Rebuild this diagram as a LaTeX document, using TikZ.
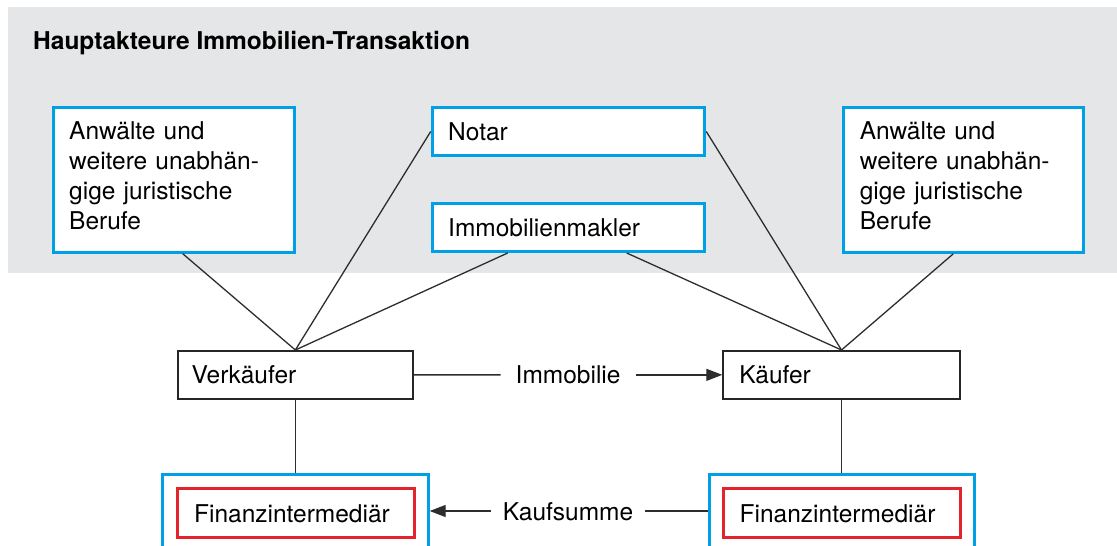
\documentclass[tikz,border=0pt]{standalone}
\usepackage{fontspec}
\setmainfont{TeX Gyre Heros}
\usetikzlibrary{arrows.meta,calc}
\definecolor{bbl}{RGB}{0,160,230}
\definecolor{rrd}{RGB}{228,35,45}
\definecolor{bgg}{RGB}{229,230,232}
\definecolor{lnc}{RGB}{45,45,45}
\newcommand{\lowpad}{\rule[-8pt]{0pt}{8pt}}
\begin{document}
\begin{tikzpicture}[x=1pt,y=-1pt,
  every node/.style={font=\fontsize{24.5}{30}\selectfont, text=black},
  basebox/.style={fill=white, anchor=north west, inner ysep=0pt, align=left},
  bluebox/.style={basebox, draw=bbl, line width=3pt},
  blackbox/.style={basebox, draw=black!85, line width=2pt},
  redbox/.style={basebox, draw=rrd, line width=2.8pt},
  oneline/.style={text height=18pt, text depth=0pt},
  conn/.style={draw=lnc, line width=1.3pt},
  arr/.style={conn, -{Triangle[length=16pt,width=12pt]}},
  lbl/.style={oneline, inner ysep=0pt}
]
\clip (0,0) rectangle (1117,546);
\fill[bgg] (8.3,7) rectangle (1117,273.3);
\node[anchor=base west, inner sep=0pt, font=\fontsize{24.5}{30}\selectfont\bfseries] (title) at (33,49) {Hauptakteure Immobilien-Transaktion};

\node[bluebox, inner xsep=16pt, text width=209pt, minimum width=241pt, minimum height=145pt] (lb) at (51.7,105.7) {Anwälte und\\weitere unabhän-\\gige juristische\\Berufe\lowpad};
\node[bluebox, oneline, inner xsep=16pt, text width=240.6pt, minimum width=272.6pt, minimum height=48pt] (notar) at (430.7,106) {Notar};
\node[bluebox, oneline, inner xsep=16pt, text width=240.6pt, minimum width=272.6pt, minimum height=48.3pt] (makler) at (430.7,201.7) {Immobilienmakler};
\node[bluebox, inner xsep=16pt, text width=207.7pt, minimum width=239.7pt, minimum height=144.8pt] (rb) at (842.3,106) {Anwälte und\\weitere unabhän-\\gige juristische\\Berufe\lowpad};

\node[blackbox, oneline, inner xsep=14pt, text width=207.3pt, minimum width=235.3pt, minimum height=47.7pt] (v) at (176.7,350) {Verkäufer};
\node[blackbox, oneline, inner xsep=16pt, text width=204.4pt, minimum width=236.4pt, minimum height=47.7pt] (k) at (722.3,350) {Käufer};

\node[bluebox, minimum width=265.4pt, minimum height=100pt] (lfb) at (161.3,472.7) {};
\node[bluebox, minimum width=265.6pt, minimum height=100pt] (rfb) at (707.7,472.7) {};
\node[redbox, oneline, inner xsep=17pt, text width=203pt, minimum width=237pt, minimum height=48.7pt] (lfi) at (175.7,487.3) {Finanzintermediär};
\node[redbox, oneline, inner xsep=16.6pt, text width=204.1pt, minimum width=237.3pt, minimum height=48.7pt] (rfi) at (721.7,487.3) {Finanzintermediär};

\node[lbl, inner xsep=15pt] (imm) at ($(v.east)!0.5!(k.west)$) {Immobilie};
\node[lbl, inner xsep=12pt] (ks) at (568,511) {Kaufsumme};

% connectors to Verkaeufer
\draw[conn] ([xshift=131pt]lb.south west) -- (v.north);
\draw[conn] (notar.west) -- (v.north);
\draw[conn] ([xshift=77pt]makler.south west) -- (v.north);
% connectors to Kaeufer
\draw[conn] (notar.east) -- (k.north);
\draw[conn] ([xshift=196pt]makler.south west) -- (k.north);
\draw[conn] ([xshift=111pt]rb.south west) -- (k.north);
% vertical
\draw[conn] (v.south) -- (v.south |- lfb.north);
\draw[conn] (k.south) -- (k.south |- rfb.north);
% transactions
\draw[conn] (v.east) -- (imm.west);
\draw[arr] (imm.east) -- (imm.east -| k.west);
\draw[conn] (ks.east) -- (ks.east -| rfb.west);
\draw[arr] (ks.west) -- (ks.west -| lfb.east);
\end{tikzpicture}
\end{document}
